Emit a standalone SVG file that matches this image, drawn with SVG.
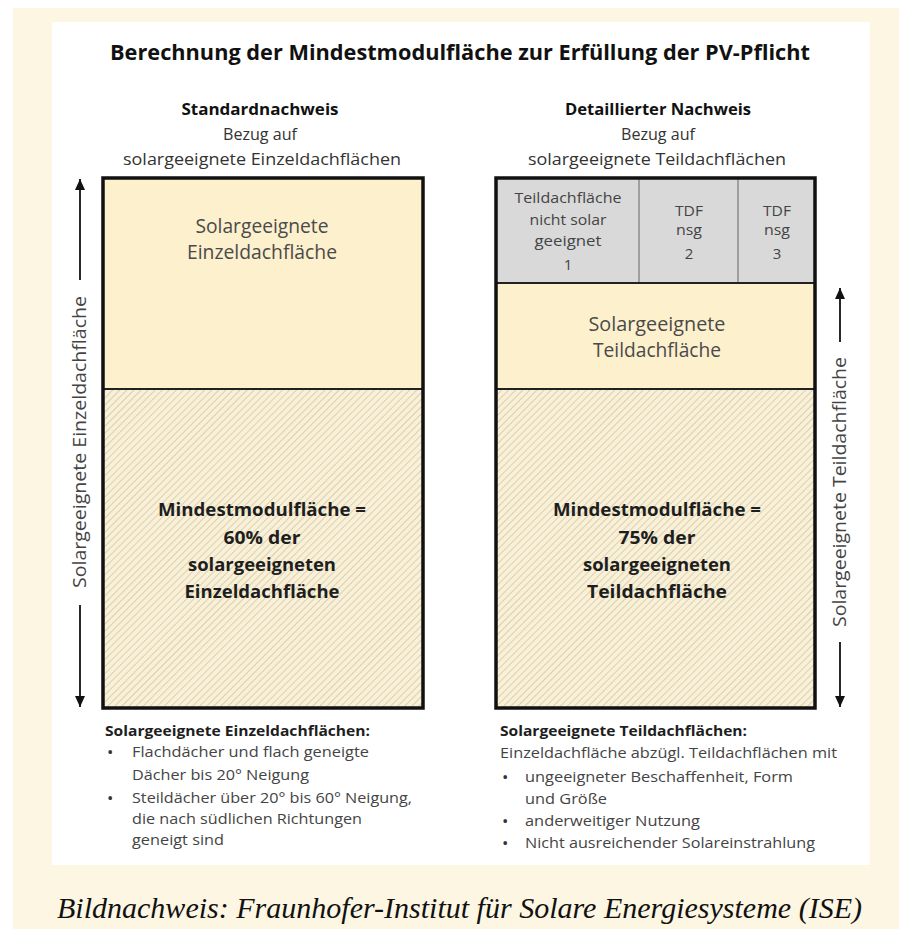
<svg xmlns="http://www.w3.org/2000/svg" width="899" height="929" viewBox="0 0 899 929">
<style>
text{font-family:"Open Sans","Noto Sans","Liberation Sans",sans-serif;}
.title{font-size:22px;font-weight:bold;fill:#111;}
.hd{font-size:16px;font-weight:bold;fill:#111;}
.sub{font-size:16px;fill:#333;}
.big{font-size:19.5px;fill:#4a4a4a;}
.cell{font-size:15px;fill:#444;}
.bold{font-size:18.5px;font-weight:bold;fill:#1e1e1e;}
.rot{font-size:19px;fill:#444;}
.lh{font-size:15px;font-weight:bold;fill:#1e1e1e;}
.li{font-size:15px;fill:#444;}
.bu{font-size:17px;fill:#333;}
.cap{font-family:"Liberation Serif","Times New Roman",serif;font-style:italic;font-size:29px;fill:#111;}
.frame{fill:none;stroke:#111;stroke-width:3.5;}
.div{stroke:#222;stroke-width:2;}
.thin{stroke:#777;stroke-width:1.2;}
.arr{stroke:#111;stroke-width:1.8;fill:none;}
</style>
<defs>
<pattern id="hatch" patternUnits="userSpaceOnUse" width="5" height="5" patternTransform="rotate(45)">
<rect width="5" height="5" fill="#f8f0d9"/>
<line x1="0" y1="0" x2="0" y2="5" stroke="#d9cba2" stroke-width="1.7"/>
</pattern>
<marker id="ah" markerUnits="userSpaceOnUse" markerWidth="12" markerHeight="12" refX="11" refY="5" orient="auto">
<path d="M0,0 L11,5 L0,10 Z" fill="#111"/>
</marker>
</defs>
<rect width="899" height="929" fill="#fff"/>
<rect x="13" y="8" width="886" height="921" fill="#fdf6e3"/>
<rect x="52" y="22" width="818" height="843" fill="#fff"/>

<text class="title" x="460" y="60" text-anchor="middle" textLength="700" lengthAdjust="spacingAndGlyphs">Berechnung der Mindestmodulfläche zur Erfüllung der PV-Pflicht</text>

<g id="left-header">
<text class="hd" x="260" y="115" text-anchor="middle" textLength="157" lengthAdjust="spacingAndGlyphs">Standardnachweis</text>
<text class="sub" x="260" y="140" text-anchor="middle" textLength="74" lengthAdjust="spacingAndGlyphs">Bezug auf</text>
<text class="sub" x="262" y="165" text-anchor="middle" textLength="278" lengthAdjust="spacingAndGlyphs">solargeeignete Einzeldachflächen</text>
</g>
<g id="right-header">
<text class="hd" x="658" y="115" text-anchor="middle" textLength="186" lengthAdjust="spacingAndGlyphs">Detaillierter Nachweis</text>
<text class="sub" x="658" y="140" text-anchor="middle" textLength="74" lengthAdjust="spacingAndGlyphs">Bezug auf</text>
<text class="sub" x="657" y="165" text-anchor="middle" textLength="258" lengthAdjust="spacingAndGlyphs">solargeeignete Teildachflächen</text>
</g>

<g id="left-solar">
<rect x="103" y="178" width="320" height="211" fill="#fdf0cd"/>
<text class="big" x="262" y="233" text-anchor="middle" textLength="133" lengthAdjust="spacingAndGlyphs">Solargeeignete</text>
<text class="big" x="262" y="259" text-anchor="middle" textLength="150" lengthAdjust="spacingAndGlyphs">Einzeldachfläche</text>
</g>
<g id="left-min">
<rect x="103" y="389" width="320" height="319" fill="url(#hatch)"/>
<text class="bold" x="262" y="516" text-anchor="middle" textLength="208" lengthAdjust="spacingAndGlyphs">Mindestmodulfläche =</text>
<text class="bold" x="262" y="544" text-anchor="middle" textLength="77" lengthAdjust="spacingAndGlyphs">60% der</text>
<text class="bold" x="262" y="571" text-anchor="middle" textLength="148" lengthAdjust="spacingAndGlyphs">solargeeigneten</text>
<text class="bold" x="262" y="598" text-anchor="middle" textLength="155" lengthAdjust="spacingAndGlyphs">Einzeldachfläche</text>
</g>
<line class="div" x1="103" y1="389" x2="423" y2="389"/>
<rect class="frame" x="103" y="178" width="320" height="530"/>

<g id="right-nsg1">
<rect x="496" y="178" width="143" height="105" fill="#d9d9d9"/>
<text class="cell" x="568" y="203" text-anchor="middle" textLength="107" lengthAdjust="spacingAndGlyphs">Teildachfläche</text>
<text class="cell" x="568" y="225" text-anchor="middle" textLength="77" lengthAdjust="spacingAndGlyphs">nicht solar</text>
<text class="cell" x="568" y="246" text-anchor="middle" textLength="67" lengthAdjust="spacingAndGlyphs">geeignet</text>
<text class="cell" x="568" y="270" text-anchor="middle">1</text>
</g>
<g id="right-nsg2">
<rect x="639" y="178" width="99" height="105" fill="#d9d9d9"/>
<text class="cell" x="689" y="216" text-anchor="middle" textLength="28" lengthAdjust="spacingAndGlyphs">TDF</text>
<text class="cell" x="689" y="235" text-anchor="middle" textLength="26" lengthAdjust="spacingAndGlyphs">nsg</text>
<text class="cell" x="689" y="259" text-anchor="middle">2</text>
</g>
<g id="right-nsg3">
<rect x="738" y="178" width="77" height="105" fill="#d9d9d9"/>
<text class="cell" x="777" y="216" text-anchor="middle" textLength="28" lengthAdjust="spacingAndGlyphs">TDF</text>
<text class="cell" x="777" y="235" text-anchor="middle" textLength="26" lengthAdjust="spacingAndGlyphs">nsg</text>
<text class="cell" x="777" y="259" text-anchor="middle">3</text>
</g>
<line class="thin" x1="639" y1="178" x2="639" y2="283"/>
<line class="thin" x1="738" y1="178" x2="738" y2="283"/>
<g id="right-solar">
<rect x="496" y="283" width="319" height="106" fill="#fdf0cd"/>
<text class="big" x="657" y="331" text-anchor="middle" textLength="137" lengthAdjust="spacingAndGlyphs">Solargeeignete</text>
<text class="big" x="657" y="357" text-anchor="middle" textLength="128" lengthAdjust="spacingAndGlyphs">Teildachfläche</text>
</g>
<g id="right-min">
<rect x="496" y="389" width="319" height="319" fill="url(#hatch)"/>
<text class="bold" x="657" y="516" text-anchor="middle" textLength="208" lengthAdjust="spacingAndGlyphs">Mindestmodulfläche =</text>
<text class="bold" x="657" y="544" text-anchor="middle" textLength="77" lengthAdjust="spacingAndGlyphs">75% der</text>
<text class="bold" x="657" y="571" text-anchor="middle" textLength="148" lengthAdjust="spacingAndGlyphs">solargeeigneten</text>
<text class="bold" x="657" y="598" text-anchor="middle" textLength="140" lengthAdjust="spacingAndGlyphs">Teildachfläche</text>
</g>
<line class="div" x1="496" y1="283" x2="815" y2="283"/>
<line class="div" x1="496" y1="389" x2="815" y2="389"/>
<rect class="frame" x="496" y="178" width="319" height="530"/>

<g id="connectors">
<line class="arr" x1="80" y1="280" x2="80" y2="179" marker-end="url(#ah)"/>
<line class="arr" x1="80" y1="605" x2="80" y2="707" marker-end="url(#ah)"/>
<line class="arr" x1="840" y1="342" x2="840" y2="288" marker-end="url(#ah)"/>
<line class="arr" x1="840" y1="642" x2="840" y2="707" marker-end="url(#ah)"/>
</g>
<text class="rot" transform="translate(86,442) rotate(-90)" text-anchor="middle" textLength="292" lengthAdjust="spacingAndGlyphs">Solargeeignete Einzeldachfläche</text>
<text class="rot" transform="translate(846,492) rotate(-90)" text-anchor="middle" textLength="270" lengthAdjust="spacingAndGlyphs">Solargeeignete Teildachfläche</text>

<g id="left-notes">
<text class="lh" x="105" y="736" textLength="265" lengthAdjust="spacingAndGlyphs">Solargeeignete Einzeldachflächen:</text>
<text class="bu" x="107" y="758">•</text>
<text class="li" x="132" y="757" textLength="237" lengthAdjust="spacingAndGlyphs">Flachdächer und flach geneigte</text>
<text class="li" x="132" y="780" textLength="177" lengthAdjust="spacingAndGlyphs">Dächer bis 20° Neigung</text>
<text class="bu" x="107" y="804">•</text>
<text class="li" x="132" y="803" textLength="280" lengthAdjust="spacingAndGlyphs">Steildächer über 20° bis 60° Neigung,</text>
<text class="li" x="132" y="824" textLength="230" lengthAdjust="spacingAndGlyphs">die nach südlichen Richtungen</text>
<text class="li" x="132" y="845" textLength="92" lengthAdjust="spacingAndGlyphs">geneigt sind</text>
</g>
<g id="right-notes">
<text class="lh" x="500" y="736" textLength="247" lengthAdjust="spacingAndGlyphs">Solargeeignete Teildachflächen:</text>
<text class="li" x="500" y="758" textLength="337" lengthAdjust="spacingAndGlyphs">Einzeldachfläche abzügl. Teildachflächen mit</text>
<text class="bu" x="502" y="783">•</text>
<text class="li" x="525" y="782" textLength="268" lengthAdjust="spacingAndGlyphs">ungeeigneter Beschaffenheit, Form</text>
<text class="li" x="525" y="804" textLength="82" lengthAdjust="spacingAndGlyphs">und Größe</text>
<text class="bu" x="502" y="827">•</text>
<text class="li" x="525" y="826" textLength="175" lengthAdjust="spacingAndGlyphs">anderweitiger Nutzung</text>
<text class="bu" x="502" y="849">•</text>
<text class="li" x="525" y="848" textLength="290" lengthAdjust="spacingAndGlyphs">Nicht ausreichender Solareinstrahlung</text>
</g>

<text class="cap" x="57" y="918" textLength="805" lengthAdjust="spacingAndGlyphs">Bildnachweis: Fraunhofer-Institut für Solare Energiesysteme (ISE)</text>
</svg>
